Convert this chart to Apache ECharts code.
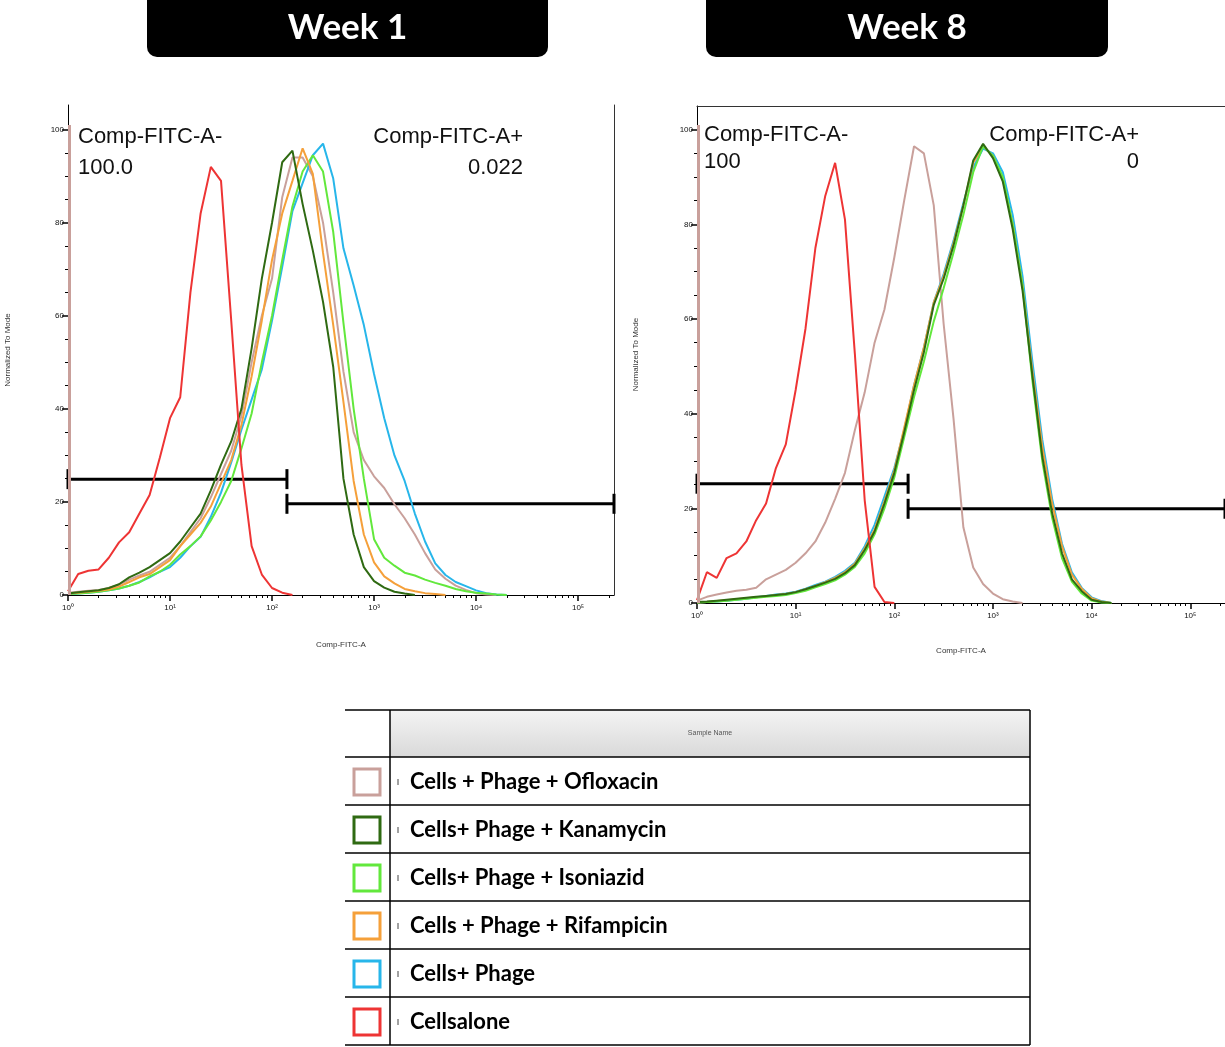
<!DOCTYPE html>
<html>
<head>
<meta charset="utf-8">
<title>Comp-FITC-A histograms, week 1 and week 8</title>
<script src="https://cdn.jsdelivr.net/npm/echarts@6/dist/echarts.min.js"></script>
<style>
  html, body { margin: 0; padding: 0; background: #fff; }
  #chart { width: 1225px; height: 1047px; }
</style>
</head>
<body>
<div id="chart"></div>
<script>
// histogram bins on Comp-FITC-A, one every 0.1 decade
const channels = [1, 1.259, 1.585, 1.995, 2.512, 3.162, 3.981, 5.012, 6.31, 7.943,
  10, 12.59, 15.85, 19.95, 25.12, 31.62, 39.81, 50.12, 63.1, 79.43,
  100, 125.9, 158.5, 199.5, 251.2, 316.2, 398.1, 501.2, 631, 794.3,
  1000, 1259, 1585, 1995, 2512, 3162, 3981, 5012, 6310, 7943,
  10000, 12589, 15849, 19953, 25119];

// week 1, normalized to mode
const w1Ofloxacin = [0.5, 0.7, 0.9, 1.1, 1.5, 2.2, 3.3, 4.2, 5, 6.5, 8, 10.5, 13.5, 16.5, 21, 26, 31, 38.5, 50, 60,
  68, 85.5, 94, 94, 90, 80, 65, 48, 35, 29, 25.5, 23, 19.5, 16.5, 13, 9, 5.5, 3.5, 2, 1.1, 0.4, 0.1, 0];
const w1Kanamycin = [0.3, 0.6, 0.8, 1, 1.5, 2.3, 3.8, 4.8, 6, 7.5, 9, 11.5, 14.5, 17.5, 22.5, 28, 33, 40, 53, 68,
  80, 93, 95.5, 84, 74, 63, 49, 25, 13, 6, 3, 1.6, 0.7, 0.3, 0];
const w1Isoniazid = [0.2, 0.3, 0.5, 0.7, 1, 1.4, 2, 2.7, 4, 5, 6.5, 8.7, 10.5, 12.6, 16, 20, 24.5, 31.5, 39, 50,
  60, 72, 83.5, 91, 94.5, 91, 78, 58.5, 40, 25, 12, 8, 6.3, 4.8, 4.2, 3.3, 2.6, 2, 1.3, 0.8, 0.5, 0.3, 0.1, 0];
const w1Rifampicin = [0.3, 0.5, 0.7, 0.9, 1.2, 1.8, 2.8, 3.8, 4.5, 6, 7.5, 10.5, 13, 15.5, 19, 24, 29, 36.5, 47, 59,
  72, 82, 89, 96, 90.5, 73.5, 58, 41.5, 24.5, 13, 7, 4, 2.5, 1.3, 0.8, 0.4, 0.2, 0];
const w1Phage = [0.2, 0.3, 0.5, 0.7, 1, 1.4, 2, 2.8, 3.8, 5, 6, 8, 10.5, 12.5, 16.8, 22, 28.5, 35.5, 42, 48.5,
  59, 70.5, 82.5, 88.5, 94.5, 97, 89.5, 74.5, 66.5, 58, 47.5, 38, 30, 24.5, 17.5, 11.5, 6.8, 4.3, 2.8, 1.9, 1, 0.4, 0.1, 0];
const w1Alone = [0.8, 4.5, 5.2, 5.5, 8, 11.3, 13.5, 17.5, 21.5, 29.5, 38, 42.5, 65, 82, 92, 89, 59, 28, 10.5, 4.4,
  1.5, 0.5, 0];

// week 8, normalized to mode
const w8Ofloxacin = [0.5, 1.3, 1.8, 2.2, 2.6, 2.8, 3.2, 5, 6, 7, 8.5, 10.5, 13, 17, 22, 27.5, 36.5, 44.5, 55, 62,
  73, 85, 96.5, 95, 84, 59, 39, 16, 7.5, 4, 2, 0.8, 0.3, 0];
const w8Kanamycin = [0.2, 0.3, 0.5, 0.7, 0.9, 1.1, 1.3, 1.5, 1.7, 1.9, 2.3, 2.9, 3.6, 4.3, 5.1, 6.3, 8, 11.2, 15.1, 21,
  27.5, 36, 45, 53, 63, 68.5, 75.5, 84, 93.5, 97, 94, 89, 79, 66, 48, 31, 19, 10.5, 5, 2.5, 0.7, 0.2, 0];
const w8Isoniazid = [0.1, 0.2, 0.3, 0.5, 0.7, 0.9, 1.1, 1.3, 1.5, 1.7, 2.1, 2.6, 3.3, 4, 4.8, 6, 7.6, 10.5, 14.5, 20,
  26.5, 35, 43.5, 51, 59.5, 66.5, 74, 82, 91, 96.5, 94.5, 90, 80, 67, 47, 30, 18, 9.5, 4.5, 2, 0.5, 0.1, 0];
const w8Rifampicin = [0.1, 0.2, 0.4, 0.6, 0.8, 1, 1.2, 1.4, 1.7, 1.9, 2.3, 2.9, 3.6, 4.4, 5.3, 6.5, 8.3, 11.5, 15.5, 21.5,
  28, 37, 46, 54, 63.5, 69, 76, 84, 93, 96.5, 94.5, 89.5, 80, 67, 49, 33, 21, 12, 6, 3, 1, 0.3, 0];
const w8Phage = [0.1, 0.2, 0.3, 0.5, 0.7, 0.9, 1.2, 1.5, 1.8, 2, 2.4, 3, 3.8, 4.5, 5.5, 6.8, 8.5, 12, 16.5, 22.5,
  28.5, 36.5, 46, 54, 63.5, 69.5, 76.5, 84.5, 92, 96, 95, 91, 82, 69, 51, 34.5, 22, 12.5, 6.5, 3.2, 1.2, 0.4, 0];
const w8Alone = [0.6, 6.5, 5.3, 9.5, 10.5, 13, 17.5, 21, 28.5, 33.5, 45, 58, 75, 86, 93, 81, 52.7, 21.7, 3.4, 0.2, 0];

// events piled up on the lowest channel (ofloxacin): [channel, height]
const pileW1 = [1.03, 101];
const pileW8 = [1.02, 101];

// gates: [from, to, height]
const gatesW1 = [[1, 140, 24.9], [140, 225000, 19.6]];
const gatesW8 = [[1, 138, 25.2], [138, 225000, 19.9]];

// tick values
const xTicks = [1, 10, 100, 1000, 10000, 100000];
const xTickLabels = ['10⁰', '10¹', '10²', '10³', '10⁴', '10⁵'];
const xMinorTicks = [2, 3, 4, 5, 6, 7, 8, 9, 20, 30, 40, 50, 60, 70, 80, 90,
  200, 300, 400, 500, 600, 700, 800, 900, 2000, 3000, 4000, 5000, 6000, 7000, 8000, 9000,
  20000, 30000, 40000, 50000, 60000, 70000, 80000, 90000, 200000];
const yTicks = [0, 20, 40, 60, 80, 100];
const yMinorTicks = [5, 10, 15, 25, 30, 35, 45, 50, 55, 65, 70, 75, 85, 90, 95];

const sampleNames = ['Cells + Phage + Ofloxacin', 'Cells+ Phage + Kanamycin', 'Cells+ Phage + Isoniazid',
  'Cells + Phage + Rifampicin', 'Cells+ Phage', 'Cellsalone'];
const sampleColors = ['#c9a09b', '#2f6a12', '#62e83c', '#f5a03a', '#27b6ea', '#ee3434'];

const chart = echarts.init(document.getElementById('chart'));

function pairs(arr) {
  return arr.map((v, i) => [channels[i], v]);
}

const tickFont = { fontFamily: 'Liberation Sans', fontSize: 8, color: '#111' };

function mainX(grid) {
  return {
    type: 'log', gridIndex: grid, position: 'bottom', min: 1, max: 225000, logBase: 10,
    name: 'Comp-FITC-A', nameLocation: 'middle', nameGap: grid === 0 ? 46 : 44,
    nameTextStyle: { fontFamily: 'Liberation Sans', fontSize: 8, color: '#333' },
    axisLine: { show: true, lineStyle: { color: '#000', width: 1 } },
    axisTick: { show: true, length: 6, customValues: xTicks, lineStyle: { color: '#000', width: 1.5 } },
    axisLabel: Object.assign({ margin: 9, customValues: xTicks,
      formatter: v => xTickLabels[xTicks.indexOf(Math.round(v))] || '' }, tickFont),
    splitLine: { show: false }, minorTick: { show: false }
  };
}
function minorX(grid) {
  return {
    type: 'log', gridIndex: grid, position: 'bottom', min: 1, max: 225000, logBase: 10,
    axisLine: { show: false },
    axisTick: { show: true, length: 3, customValues: xMinorTicks, lineStyle: { color: '#000' } },
    axisLabel: { show: false }, splitLine: { show: false }
  };
}
function mainY(grid, max) {
  return {
    type: 'value', gridIndex: grid, position: 'left', min: 0, max: max,
    name: 'Normalized To Mode', nameLocation: 'middle', nameGap: grid === 0 ? 56 : 57,
    nameTextStyle: { fontFamily: 'Liberation Sans', fontSize: 8, color: '#333' },
    axisLine: { show: true, lineStyle: { color: '#000', width: 1 } },
    axisTick: { show: true, length: 6, customValues: yTicks, lineStyle: { color: '#000', width: 1.5 } },
    axisLabel: Object.assign({ margin: 4, customValues: yTicks }, tickFont),
    splitLine: { show: false }
  };
}
function minorY(grid, max) {
  return {
    type: 'value', gridIndex: grid, position: 'left', min: 0, max: max,
    axisLine: { show: false },
    axisTick: { show: true, length: 3, customValues: yMinorTicks, lineStyle: { color: '#000' } },
    axisLabel: { show: false }, splitLine: { show: false }
  };
}

function histo(data, color, xi, yi, pile) {
  const s = {
    type: 'line', data: pairs(data), xAxisIndex: xi, yAxisIndex: yi,
    showSymbol: false, symbol: 'none', silent: true, animation: false,
    lineStyle: { color: color, width: 2 }
  };
  if (pile) {
    s.markLine = {
      silent: true, symbol: 'none', animation: false, label: { show: false },
      lineStyle: { color: color, width: 3, type: 'solid' },
      data: [[{ coord: [pile[0], 0] }, { coord: [pile[0], pile[1]] }]]
    };
  }
  return s;
}

function gateSeries(gates, xi, yi) {
  return {
    type: 'custom', xAxisIndex: xi, yAxisIndex: yi, silent: true, clip: false,
    data: gates, encode: { x: [0, 1], y: 2 },
    renderItem: function (params, api) {
      const a = api.coord([api.value(0), api.value(2)]);
      const b = api.coord([api.value(1), api.value(2)]);
      const st = { stroke: '#000', lineWidth: 3 };
      return {
        type: 'group', children: [
          { type: 'line', shape: { x1: a[0], y1: a[1], x2: b[0], y2: b[1] }, style: st },
          { type: 'line', shape: { x1: a[0], y1: a[1] - 10, x2: a[0], y2: a[1] + 10 }, style: st },
          { type: 'line', shape: { x1: b[0], y1: b[1] - 10, x2: b[0], y2: b[1] + 10 }, style: st }
        ]
      };
    }
  };
}

// title boxes, gate annotations, sample table
const graphics = [];
function titleBox(x, w, label) {
  graphics.push({ type: 'rect', shape: { x: x, y: -12, width: w, height: 69, r: 10 }, style: { fill: '#000' } });
  graphics.push({ type: 'text', x: x + w / 2, y: 28,
    style: { text: label, fill: '#fff', font: 'bold 35px Lato', align: 'center', verticalAlign: 'middle' } });
}
titleBox(147, 401, 'Week 1');
titleBox(706, 402, 'Week 8');

function note(x, y, text, align) {
  graphics.push({ type: 'text', x: x, y: y,
    style: { text: text, fill: '#111', font: '22px "Liberation Sans"', align: align, verticalAlign: 'middle' } });
}
note(78, 137, 'Comp-FITC-A-', 'left');
note(78, 168, '100.0', 'left');
note(523, 137, 'Comp-FITC-A+', 'right');
note(523, 168, '0.022', 'right');
note(704, 135, 'Comp-FITC-A-', 'left');
note(704, 162, '100', 'left');
note(1139, 135, 'Comp-FITC-A+', 'right');
note(1139, 162, '0', 'right');

// sample table
const tLeft = 345, tCol = 390, tRight = 1030, tTop = 710, tHead = 757, rowH = 48;
graphics.push({ type: 'rect', shape: { x: tCol, y: tTop, width: tRight - tCol, height: tHead - tTop },
  style: { fill: new echarts.graphic.LinearGradient(0, 0, 0, 1, [{ offset: 0, color: '#f4f4f4' }, { offset: 1, color: '#d9d9d9' }]) } });
graphics.push({ type: 'text', x: (tCol + tRight) / 2, y: 733,
  style: { text: 'Sample Name', fill: '#555', font: '7px "Liberation Sans"', align: 'center', verticalAlign: 'middle' } });
const tBottom = tHead + rowH * sampleNames.length;
function hline(y, w) {
  graphics.push({ type: 'line', shape: { x1: tLeft, y1: y, x2: tRight, y2: y }, style: { stroke: '#000', lineWidth: w } });
}
hline(tTop, 1.5);
for (let i = 0; i <= sampleNames.length; i++) hline(tHead + rowH * i, 1.5);
[tCol, tRight].forEach(x => graphics.push({ type: 'line', shape: { x1: x, y1: tTop, x2: x, y2: tBottom },
  style: { stroke: '#000', lineWidth: 1.5 } }));
sampleNames.forEach((name, i) => {
  const cy = tHead + rowH * i + rowH / 2 + 1;
  graphics.push({ type: 'rect', shape: { x: 354, y: cy - 13, width: 26, height: 26 },
    style: { fill: '#fff', stroke: sampleColors[i], lineWidth: 3 } });
  graphics.push({ type: 'line', shape: { x1: 398, y1: cy - 3, x2: 398, y2: cy + 3 }, style: { stroke: '#444', lineWidth: 1 } });
  graphics.push({ type: 'text', x: 410, y: cy,
    style: { text: name, fill: '#000', font: 'bold 22px Lato', align: 'left', verticalAlign: 'middle' } });
});

const c = sampleColors;
chart.setOption({
  animation: false,
  backgroundColor: '#fff',
  grid: [
    { left: 68, top: 105, width: 546, height: 490 },
    { left: 697, top: 106, width: 528, height: 497 }
  ],
  xAxis: [
    mainX(0), minorX(0),
    mainX(1), minorX(1),
    { type: 'value', gridIndex: 1, position: 'top', axisLine: { show: true, lineStyle: { color: '#333' } },
      axisTick: { show: false }, axisLabel: { show: false }, splitLine: { show: false } }
  ],
  yAxis: [
    mainY(0, 105.3), minorY(0, 105.3),
    { type: 'value', gridIndex: 0, position: 'right', axisLine: { show: true, lineStyle: { color: '#333' } },
      axisTick: { show: false }, axisLabel: { show: false }, splitLine: { show: false } },
    mainY(1, 105), minorY(1, 105)
  ],
  series: [
    histo(w1Ofloxacin, c[0], 0, 0, pileW1),
    histo(w1Phage, c[4], 0, 0),
    histo(w1Isoniazid, c[2], 0, 0),
    histo(w1Rifampicin, c[3], 0, 0),
    histo(w1Kanamycin, c[1], 0, 0),
    histo(w1Alone, c[5], 0, 0),
    gateSeries(gatesW1, 0, 0),
    histo(w8Ofloxacin, c[0], 2, 3, pileW8),
    histo(w8Phage, c[4], 2, 3),
    histo(w8Rifampicin, c[3], 2, 3),
    histo(w8Isoniazid, c[2], 2, 3),
    histo(w8Kanamycin, c[1], 2, 3),
    histo(w8Alone, c[5], 2, 3),
    gateSeries(gatesW8, 2, 3)
  ],
  graphic: graphics
});
</script>
</body>
</html>
